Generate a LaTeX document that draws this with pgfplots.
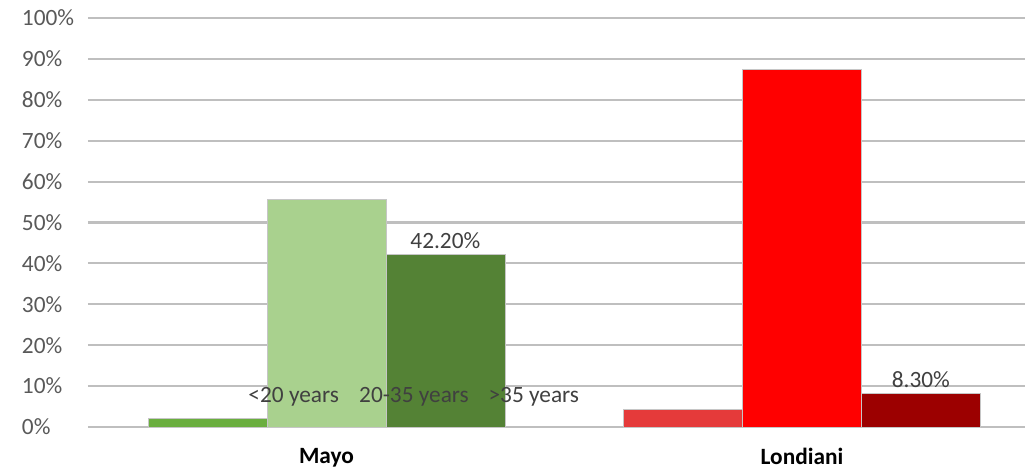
\documentclass[border=0pt]{standalone}
\usepackage{pgfplots}
\pgfplotsset{compat=1.18}
\usepackage{fontspec}
\setmainfont{Carlito}
\definecolor{mayoA}{HTML}{6AAE3E}
\definecolor{mayoB}{HTML}{A9D18E}
\definecolor{mayoC}{HTML}{548235}
\definecolor{lonA}{HTML}{E53A3A}
\definecolor{lonB}{HTML}{FF0000}
\definecolor{lonC}{HTML}{9C0000}
\definecolor{gridc}{HTML}{BFBFBF}
\definecolor{tickc}{HTML}{595959}
\definecolor{labc}{HTML}{404040}
\begin{document}
\begin{tikzpicture}
\begin{axis}[
  name=ax,
  scale only axis,
  width=702.75pt, height=306.75pt,
  xmin=-0.5016, xmax=1.469,
  ymin=0, ymax=100,
  ybar,
  axis line style={draw=none},
  major tick style={draw=none},
  ymajorgrids,
  grid style={draw=gridc, line width=1.6pt},
  ytick={0,10,...,100},
  yticklabels={0\%,10\%,20\%,30\%,40\%,50\%,60\%,70\%,80\%,90\%,100\%},
  yticklabel style={anchor=west, inner sep=0pt, xshift=-49.7pt, text=tickc, font=\fontsize{17.5}{20}\selectfont},
  xtick={0,1},
  xticklabels={\textbf{Mayo},\textbf{Londiani}},
  xticklabel style={inner sep=0pt, yshift=-11.5pt, text=black, font=\fontsize{17.5}{20}\selectfont},
  clip=false,
]
\addplot[fill=mayoA, draw=gray!45, line width=0.4pt, bar width=0.25, bar shift=-0.25] coordinates {(0,2.2)};
\addplot[fill=mayoB, draw=gray!45, line width=0.4pt, bar width=0.25, bar shift=0] coordinates {(0,55.7)};
\addplot[fill=mayoC, draw=gray!45, line width=0.4pt, bar width=0.25, bar shift=0.25,
  nodes near coords={42.20\%}, nodes near coords style={anchor=center, inner sep=0pt, yshift=10pt, text=labc, font=\fontsize{17.5}{20}\selectfont}] coordinates {(0,42.2)};
\addplot[fill=lonA, draw=gray!45, line width=0.4pt, bar width=0.25, bar shift=-0.25] coordinates {(1,4.3)};
\addplot[fill=lonB, draw=gray!45, line width=0.4pt, bar width=0.25, bar shift=0] coordinates {(1,87.4)};
\addplot[fill=lonC, draw=gray!45, line width=0.4pt, bar width=0.25, bar shift=0.25,
  nodes near coords={8.30\%}, nodes near coords style={anchor=center, inner sep=0pt, yshift=10pt, text=labc, font=\fontsize{17.5}{20}\selectfont}] coordinates {(1,8.3)};
\node[inner sep=0pt, text=labc, font=\fontsize{17.5}{20}\selectfont] at (axis cs:-0.069,7.4) {<20 years};
\node[inner sep=0pt, text=labc, font=\fontsize{17.5}{20}\selectfont] at (axis cs:0.184,7.4) {20-35 years};
\node[inner sep=0pt, text=labc, font=\fontsize{17.5}{20}\selectfont] at (axis cs:0.436,7.4) {>35 years};
\end{axis}
\pgfresetboundingbox
\path[use as bounding box] (-66pt,-31.5pt) rectangle (702.75pt,320.25pt);
\end{tikzpicture}
\end{document}
